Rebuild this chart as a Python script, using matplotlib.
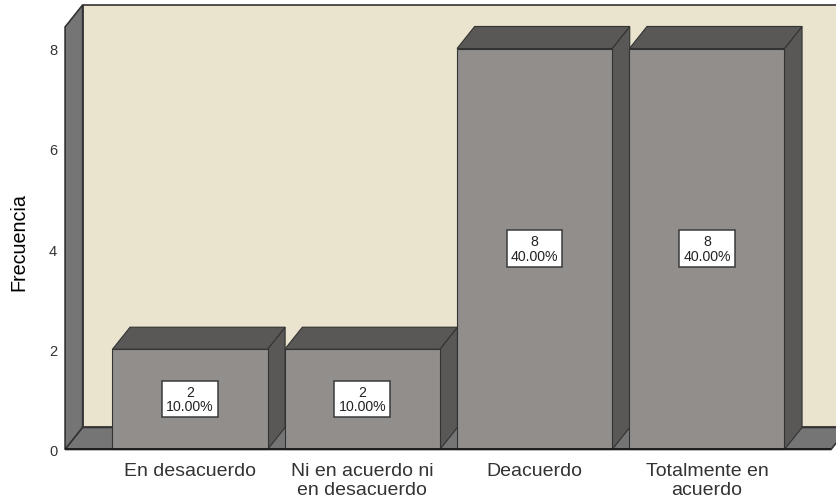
import matplotlib
matplotlib.use("Agg")
import matplotlib.pyplot as plt

plt.rcParams['font.family'] = ['Liberation Sans', 'DejaVu Sans']

categories = ["En desacuerdo", "Ni en acuerdo ni\nen desacuerdo", "Deacuerdo", "Totalmente en\nacuerdo"]
counts = [2, 2, 8, 8]
percents = ["10.00%", "10.00%", "40.00%", "40.00%"]
y_ticks = [0, 2, 4, 6, 8]

WALL = "#EAE4CE"
SIDE_WALL = "#757575"
BAR_FRONT = "#918E8C"
BAR_DARK = "#595856"
EDGE = "#333333"

# pseudo 3d offsets in data units
bar_w = 0.9
dx = 0.102
dy = 0.44
left = -0.725
right = 3.72
top = 8.43

W, H = 836, 502
fig = plt.figure(figsize=(W / 100, H / 100), dpi=100)
ax = fig.add_axes([60 / W, (H - 453) / H, 776 / W, 453 / H])
ax.set_xlim(-0.7545, 3.749)
ax.set_ylim(-0.05, 8.988)
ax.patch.set_visible(False)
for s in ax.spines.values():
    s.set_visible(False)


def poly(xs, ys, color, lw=0.8, edge=EDGE):
    ax.fill(xs, ys, facecolor=color, edgecolor=edge, linewidth=lw, joinstyle="miter")


# back wall, left wall, floor
poly([left + dx, right + 1, right + 1, left + dx], [dy, dy, top + dy, top + dy], WALL, lw=1.2)
poly([left, left + dx, left + dx, left], [0, dy, top + dy, top], SIDE_WALL, lw=1.2)
poly([left, left + dx, right + dx, right], [0, dy, dy, 0], SIDE_WALL, lw=1.2)
ax.plot([left, right], [0, 0], color="#1E1E1E", lw=1.4, solid_capstyle="butt")

for i, (c, p) in enumerate(zip(counts, percents)):
    x0 = i - bar_w / 2
    x1 = i + bar_w / 2
    poly([x1, x1 + dx, x1 + dx, x1], [0, dy, c + dy, c], BAR_DARK)
    poly([x0, x0 + dx, x1 + dx, x1], [c, c + dy, c + dy, c], BAR_DARK)
    poly([x0, x1, x1, x0], [0, 0, c, c], BAR_FRONT)
    ax.text(i, c / 2 + 0.01, f"{c}\n{p}", ha="center", va="center", fontsize=10.2, color="#222222",
            linespacing=1.02, bbox=dict(boxstyle="square,pad=0.29", facecolor="white",
                                        edgecolor="#3A3A3A", linewidth=1.1))

ax.set_xticks(range(len(categories)))
ax.set_xticklabels(categories, fontsize=14, color="#333333", linespacing=1.14)
ax.set_yticks(y_ticks)
ax.set_yticklabels([str(t) for t in y_ticks], fontsize=10.5, color="#333333")
ax.tick_params(axis="both", length=0)
ax.tick_params(axis="x", pad=7)
ax.tick_params(axis="y", pad=2)
ax.set_ylabel("Frecuencia", fontsize=14.2, color="#000000")
ax.yaxis.set_label_coords(-32 / 776, (453 - 242) / 453)

fig.savefig("out.png", dpi=100)
